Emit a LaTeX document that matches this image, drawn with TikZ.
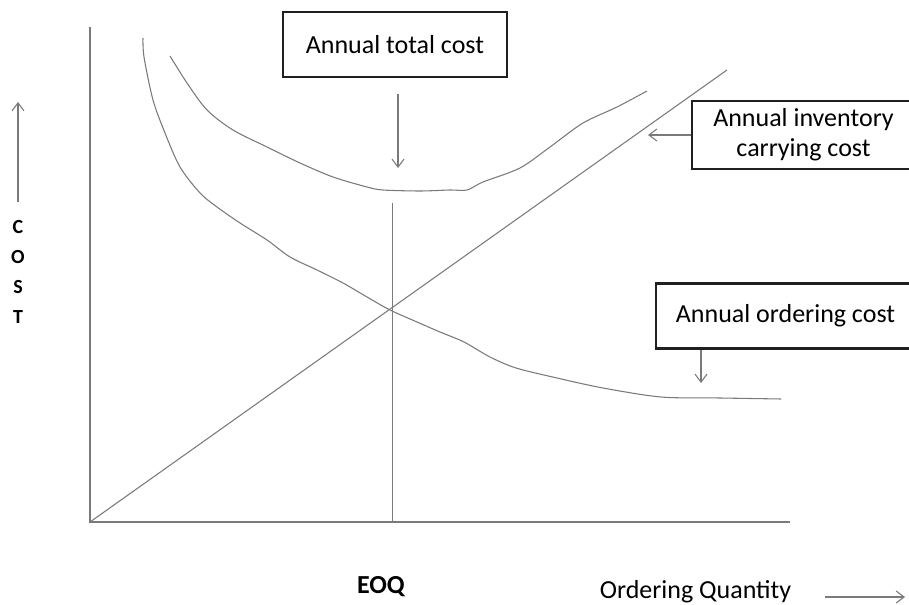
\documentclass[tikz,border=0pt]{standalone}
\usepackage{fontspec}
\setmainfont{Carlito}
\usetikzlibrary{arrows.meta, positioning}
\definecolor{linegray}{HTML}{7A7A7A}
\definecolor{boxgray}{HTML}{202020}

\tikzset{
  labelbox/.style={draw=boxgray, line width=1.6pt, align=center, inner sep=0pt,
    font=\fontsize{19.5}{22.5}\selectfont},
  curve/.style={draw=linegray, line width=0.8pt},
  axis/.style={draw=linegray, line width=0.9pt},
  pointer/.style={draw=linegray, line width=0.8pt, -{Straight Barb[length=6pt, width=9pt]}},
}

\begin{document}
\begin{tikzpicture}[x=0.75pt, y=-0.75pt]
\useasboundingbox (0,0) rectangle (909,605);
\clip (0,0) rectangle (909,605);

% Axes
\coordinate (origin) at (90,522);
\coordinate (ytop) at (90,27);
\coordinate (xend) at (790,522);
\draw[axis] (ytop) -- (origin) -- (xend);

% EOQ line
\coordinate (eoqtop) at (392,203);
\coordinate (eoqfoot) at (392,522);
\draw[axis, line width=0.7pt] (eoqtop) -- (eoqfoot);

% Carrying cost
\coordinate (carryend) at (727,70);
\draw[curve] (origin) -- (carryend);

% Ordering cost
\draw[curve] plot[smooth, tension=0.5] coordinates {(143,38) (144,57) (153,100) (165,133)
  (180,167) (200,193) (217,207) (240,223) (267,240) (290,257) (317,270) (343,283)
  (367,297) (390,310) (417,322) (440,332) (464,342) (490,357) (516,368) (557,378)
  (603,388) (661,397) (720,398) (781,399)};

% Total cost
\draw[curve] plot[smooth, tension=0.5] coordinates {(170,56) (187,83) (207,110) (233,130)
  (267,147) (300,163) (333,177) (367,187) (383,190) (420,191) (450,190) (467,190)
  (483,182) (520,168) (550,147) (583,123) (617,107) (647,91)};

% Boxes
\node[labelbox, minimum width=168pt, minimum height=48.75pt] (total) at (395,44.5) {Annual total cost};
\node[labelbox, minimum width=167.25pt, minimum height=51pt] (carrying) at (803.5,135) {Annual inventory\\carrying cost};
\node[labelbox, minimum width=194.25pt, minimum height=48.75pt] (ordering) at (785.5,316) {Annual ordering cost};

% Pointers
\coordinate (totalmin) at (398,168);
\draw[pointer, shorten <=12pt] (total.south -| totalmin) -- (totalmin);
\coordinate (carrytip) at (648,135);
\draw[pointer] (carrying.west) -- (carrytip);
\coordinate (ordertip) at (701,383);
\draw[pointer] (ordering.south -| ordertip) -- (ordertip);

% Axis labels
\node[font=\fontsize{15}{22.3}\selectfont\bfseries, align=center, inner sep=0pt] (cost) at (18,272) {C\\O\\S\\T};
\coordinate (costtip) at (18,102);
\draw[pointer, shorten <=14pt] (cost.north) -- (costtip);

\node[font=\fontsize{19.5}{22}\selectfont\bfseries] (eoq) at (381,587) {EOQ};
\node[font=\fontsize{19.5}{22}\selectfont, inner sep=0pt] (qty) at (695.5,592) {Ordering Quantity};
\coordinate (qtytip) at (905,597);
\draw[pointer, shorten <=25.5pt] (qty.east |- qtytip) -- (qtytip);

\end{tikzpicture}
\end{document}
